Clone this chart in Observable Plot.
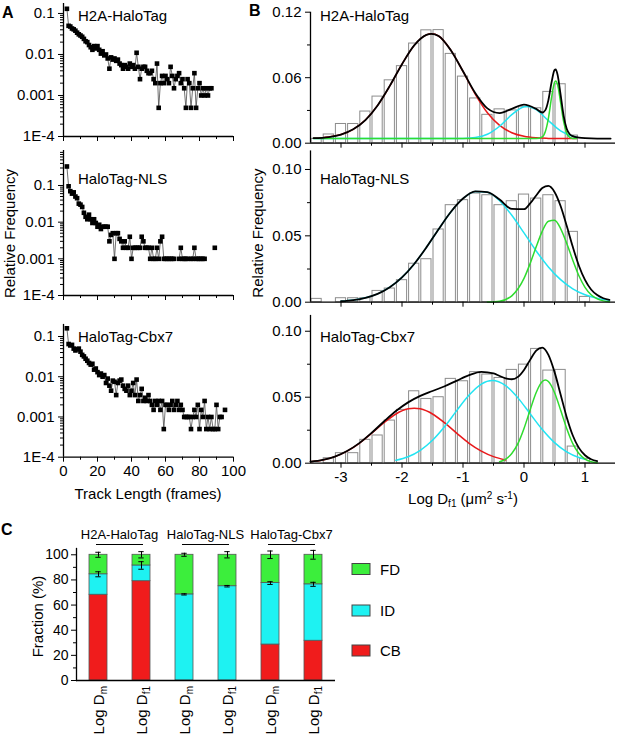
<!DOCTYPE html>
<html><head><meta charset="utf-8">
<script src="https://cdn.jsdelivr.net/npm/d3@7"></script>
<script src="https://cdn.jsdelivr.net/npm/@observablehq/plot@0.6"></script>
<style>
html,body{margin:0;padding:0;background:#fff;}
#fig{position:relative;width:617px;height:737px;overflow:hidden;background:#fff;}
#fig svg{position:absolute;overflow:visible;}
</style></head><body><div id="fig"></div>
<script>
// ---------------- Panel A data (relative frequency per track length, frames from 2) ----------------
const trackStartFrame = 2;
const trackH2A = [0.13,0.05,0.048,0.043,0.041,0.038,0.034,0.031,0.029,0.027,0.024,0.021,0.02,0.017,0.015,0.013,0.016,0.014,0.016,0.013,0.0105,0.012,0.0095,0.01,0.008,0.0045,0.0085,0.0075,0.008,0.007,0.0075,0.006,0.0055,0.0045,0.0055,0.005,0.0045,0.006,0.005,0.0055,0.0045,0.011,0.005,0.0025,0.0045,0.005,0.005,0.004,0.0035,0.0035,0.004,0.0025,0.002,0.006,0.0005,0.002,0.003,0.002,0.003,0.0025,0.002,0.005,0.003,0.0015,0.0025,0.003,0.0035,0.002,0.0025,0.0015,0.0005,0.0025,0.002,0.0005,0.0015,0.0035,0.0005,0.0015,0.002,0.001,0.0015,0.001,0.0015,0.001,0.0015,0.0015];
const trackNLS = [0.33,0.095,0.07,0.06,0.065,0.05,0.045,0.032,0.03,0.026,0.018,0.014,0.012,0.016,0.012,0.0095,0.012,0.0095,0.0075,0.0085,0.0065,0.0075,0.0075,0.0075,0.0075,0.003,0.0045,0.005,0.001,0.005,0.005,0.0035,0.003,0.002,0.003,0.002,0.002,0.004,0.001,0.002,0.002,0.002,0.002,0.002,0.004,0.003,0.002,0.002,0.002,0.001,0.002,0.001,0.001,0.002,0.001,0.003,0.004,0.001,0.001,0.001,0.001,0.001,0.001,0.001,null,null,0.001,0.002,0.001,0.001,0.001,0.001,null,0.001,0.001,0.002,0.001,0.001,0.001,0.001,0.001,0.001,null,null,null,null,null,0.002];
const trackCbx7 = [0.16,0.065,0.06,0.062,0.05,0.045,0.048,0.05,0.042,0.035,0.032,0.028,0.025,0.022,0.02,0.021,0.015,0.016,0.013,0.011,0.012,0.01,0.011,0.007,0.009,0.006,0.0045,0.008,0.0075,0.0035,0.007,0.008,0.0085,0.006,0.005,0.0045,0.006,0.0035,0.0045,0.007,0.0035,0.0085,0.0025,0.0035,0.005,0.0025,0.003,0.0025,0.0035,0.0025,0.002,0.0015,0.0025,0.002,0.0025,0.0015,0.0025,0.0005,0.002,0.002,0.0015,0.002,0.0025,0.0015,0.002,0.0025,0.0015,0.002,0.0015,0.001,0.001,0.001,0.001,0.0005,0.001,0.0015,0.001,0.002,0.0005,0.0015,0.001,0.0025,0.0005,0.001,0.0005,0.001,0.0005,0.0005,0.002,0.0005,0.001,0.001,null,0.0015];
const aYTicks = [1e-4, 0.001, 0.01, 0.1];
const aYTickLabels = ["1E-4", "0.001", "0.01", "0.1"];
const aXTicks = [0, 20, 40, 60, 80, 100];
const aXMinor = [10, 30, 50, 70, 90];

// ---------------- Panel B data (histograms of Log Df1, bin width 0.2) ----------------
const binCenters = [-3.4,-3.2,-3.0,-2.8,-2.6,-2.4,-2.2,-2.0,-1.8,-1.6,-1.4,-1.2,-1.0,-0.8,-0.6,-0.4,-0.2,0.0,0.2,0.4,0.6,0.8,1.0];
const binWidth = 0.2;
const histH2A = [0.004,0.008,0.0176,0.0176,0.029,0.0427,0.0576,0.0706,0.0913,0.1034,0.1036,0.0818,0.061,0.041,0.026,0.031,0.030,0.033,0.032,0.047,0.054,0.007,0];
const histNLS = [0.0025,0,0.003,0.003,0.003,0.0085,0.0103,0.0166,0.029,0.0324,0.0548,0.0731,0.0769,0.0819,0.0806,0.0731,0.0761,0.0811,0.0781,0.0806,0.0761,0.053,0.004];
const histCbx7 = [0,0.0038,0.0076,0.0076,0.0177,0.021,0.0323,0.0404,0.0545,0.0487,0.05,0.0639,0.0621,0.069,0.0672,0.0646,0.0707,0.0747,0.0866,0.0702,0.0707,0.0126,0.0033];

// fitted curves (x = Log Df1, y = relative frequency)
const h2aFitX = [-3.45,-3.2,-3.0,-2.8,-2.6,-2.4,-2.2,-2.0,-1.8,-1.6,-1.52,-1.4,-1.2,-1.0,-0.8,-0.6,-0.4,-0.2,0.0,0.2,0.3,0.35,0.4,0.45,0.5,0.52,0.55,0.6,0.65,0.7,0.75,0.8,0.9,1.0,1.2,1.42];
const h2aFitY = [0.0046,0.0056,0.0079,0.0127,0.0212,0.0346,0.0525,0.0724,0.0896,0.0992,0.1002,0.0982,0.0852,0.0659,0.046,0.0319,0.0276,0.0315,0.0354,0.0314,0.0281,0.0303,0.0395,0.0552,0.0669,0.0676,0.0628,0.0445,0.0251,0.0133,0.0082,0.0065,0.0052,0.0046,0.0042,0.0042];
const h2aCBX = [-3.45,-3.2,-3.0,-2.8,-2.6,-2.4,-2.2,-2.0,-1.8,-1.6,-1.52,-1.4,-1.2,-1.0,-0.8,-0.6,-0.4,-0.2,0.0,0.2,0.4,0.6,0.86];
const h2aCBY = [0.0046,0.0056,0.0079,0.0127,0.0212,0.0346,0.0525,0.0724,0.0896,0.0992,0.1002,0.0982,0.0852,0.0657,0.045,0.0279,0.0163,0.0096,0.0063,0.0049,0.0044,0.0042,0.0042];
const h2aIDX = [-3.45,-1.2,-1.0,-0.8,-0.6,-0.4,-0.2,0.0,0.05,0.2,0.4,0.6,0.8,0.86];
const h2aIDY = [0.0042,0.0042,0.0044,0.0052,0.0082,0.0155,0.0261,0.0333,0.0337,0.0307,0.0207,0.0113,0.0063,0.0055];
const h2aFDX = [-3.45,0.2,0.3,0.35,0.4,0.45,0.5,0.52,0.55,0.6,0.65,0.7,0.75,0.8,0.86];
const h2aFDY = [0.0042,0.0042,0.0058,0.0107,0.0228,0.0412,0.0555,0.057,0.0537,0.0374,0.0197,0.0092,0.0053,0.0044,0.0042];

const nlsFitX = [-3.0,-2.8,-2.6,-2.4,-2.2,-2.0,-1.8,-1.6,-1.4,-1.2,-1.0,-0.8,-0.6,-0.4,-0.2,0.0,0.1,0.2,0.3,0.4,0.5,0.6,0.7,0.8,0.9,1.0,1.1,1.2,1.3,1.4];
const nlsFitY = [0.0007,0.0016,0.0033,0.0063,0.0113,0.0187,0.0288,0.0413,0.055,0.068,0.0781,0.0835,0.083,0.0773,0.0703,0.0701,0.0744,0.0804,0.086,0.0876,0.0831,0.0725,0.0576,0.0417,0.0275,0.0168,0.0096,0.0054,0.003,0.0017];
const nlsIDX = [-3.0,-2.8,-2.6,-2.4,-2.2,-2.0,-1.8,-1.6,-1.4,-1.2,-1.0,-0.8,-0.6,-0.4,-0.2,0.0,0.2,0.4,0.6,0.8,1.0,1.2,1.4];
const nlsIDY = [0.0007,0.0016,0.0033,0.0063,0.0113,0.0187,0.0288,0.0413,0.055,0.068,0.0781,0.0835,0.0829,0.0765,0.0655,0.0522,0.0386,0.0266,0.017,0.0101,0.0056,0.0029,0.0014];
const nlsFDX = [-0.6,-0.4,-0.2,0.0,0.1,0.2,0.3,0.4,0.5,0.6,0.7,0.8,0.9,1.0,1.1,1.2,1.3,1.4];
const nlsFDY = [0.0001,0.0008,0.0048,0.0179,0.0291,0.0418,0.0536,0.061,0.0617,0.0555,0.0444,0.0316,0.0199,0.0112,0.0056,0.0025,0.001,0.0003];

const cbxFitX = [-3.5,-3.3,-3.1,-2.9,-2.7,-2.5,-2.3,-2.1,-1.9,-1.7,-1.5,-1.3,-1.1,-0.9,-0.7,-0.5,-0.4,-0.3,-0.2,-0.1,0.0,0.1,0.2,0.3,0.4,0.5,0.6,0.7,0.8,0.9,1.0,1.1,1.2];
const cbxFitY = [0.0011,0.0025,0.005,0.0092,0.0152,0.0229,0.0314,0.0395,0.0461,0.051,0.0547,0.0583,0.0626,0.0667,0.0692,0.068,0.0661,0.0643,0.0636,0.0654,0.0707,0.0783,0.0853,0.0876,0.0821,0.0692,0.0521,0.0349,0.021,0.0116,0.006,0.003,0.0016];
const cbxCBX = [-3.5,-3.3,-3.1,-2.9,-2.7,-2.5,-2.3,-2.1,-1.9,-1.8,-1.7,-1.5,-1.3,-1.1,-0.9,-0.7,-0.5,-0.3];
const cbxCBY = [0.0011,0.0025,0.005,0.0092,0.0151,0.0226,0.0305,0.0373,0.0412,0.0417,0.0412,0.0373,0.0305,0.0226,0.0151,0.0092,0.005,0.0025];
const cbxIDX = [-2.1,-1.9,-1.7,-1.5,-1.3,-1.1,-0.9,-0.7,-0.52,-0.3,-0.1,0.1,0.3,0.5,0.7,0.9,1.0];
const cbxIDY = [0.0022,0.0049,0.0098,0.0174,0.0278,0.04,0.0516,0.06,0.0626,0.0587,0.0495,0.0375,0.0255,0.0156,0.0086,0.0043,0.0029];
const cbxFDX = [-0.4,-0.3,-0.2,-0.1,0.0,0.1,0.2,0.3,0.35,0.4,0.5,0.6,0.7,0.8,0.9,1.0,1.1,1.2];
const cbxFDY = [0.0011,0.0031,0.0073,0.0148,0.0263,0.0403,0.0536,0.0619,0.063,0.0619,0.0536,0.0403,0.0263,0.0148,0.0073,0.0031,0.0011,0.0004];

const bXTicks = [-3, -2, -1, 0, 1];
const bXMinor = [-2.5, -1.5, -0.5, 0.5];

// ---------------- Panel C data (fractions, %) ----------------
const cCats = ["H2A Dm", "H2A Df1", "NLS Dm", "NLS Df1", "Cbx7 Dm", "Cbx7 Df1"];
const cSub = ["m", "f1", "m", "f1", "m", "f1"];
const cGroups = ["H2A-HaloTag", "HaloTag-NLS", "HaloTag-Cbx7"];
const fracCB = [68.2, 79.0, 0, 0, 28.6, 31.6];
const fracID = [16.3, 12.5, 68.5, 75.0, 48.9, 44.9];
const fracFD = [15.5, 8.5, 31.5, 25.0, 22.5, 23.5];
const errID = [2.0, 3.0, 0.5, 0.6, 1.1, 1.6];
const errFD = [2.0, 2.5, 1.2, 2.5, 3.0, 3.5];
const compNames = ["CB", "ID", "FD"];
const compColors = ["#f01c1c", "#1ef2f2", "#3cee3c"];
const cYTicks = [0, 20, 40, 60, 80, 100];
const cYMinor = [10, 30, 50, 70, 90];

// ---------------- drawing ----------------
const FONT = '"Liberation Sans", Arial, sans-serif';
const baseStyle = {fontFamily: FONT, fontSize: "15px", background: "transparent", overflow: "visible", color: "black"};
const fig = document.getElementById("fig");
function place(el, left, top) { el.style.position = "absolute"; el.style.left = left + "px"; el.style.top = top + "px"; fig.appendChild(el); return el; }

function minorLog(lo, hi) {
  const t = [];
  for (let e = -4; e <= 0; e++) for (let m = 2; m <= 9; m++) { const v = +(m * Math.pow(10, e)).toPrecision(6); if (v > lo && v < hi) t.push(v); }
  return t;
}
const fmtA = d => { const i = aYTicks.indexOf(d); return i >= 0 ? aYTickLabels[i] : ""; };

function trackPanel(vals, o) {
  const data = vals.map((v, i) => ({frame: trackStartFrame + i, freq: v}));
  return Plot.plot({
    width: 240, height: o.height,
    marginLeft: 63, marginRight: 7, marginTop: o.mt, marginBottom: o.mb,
    style: baseStyle,
    x: {domain: [0, 100]},
    y: {type: "log", domain: [1e-4, o.ymax]},
    marks: [
      Plot.line(data, {x: "frame", y: "freq", stroke: "#4d4d4d", strokeWidth: 0.8}),
      Plot.dot(data, {x: "frame", y: "freq", symbol: "square", r: 2.6, fill: "black"}),
      Plot.ruleX([0], {strokeWidth: 1.3}),
      Plot.ruleY([1e-4], {strokeWidth: 1.3}),
      Plot.axisY({ticks: aYTicks, tickFormat: fmtA, tickSize: 5, tickPadding: 4, label: null}),
      Plot.axisY({ticks: minorLog(1e-4, o.ymax), tickSize: 3, tickFormat: () => "", label: null}),
      Plot.axisX({ticks: aXTicks, tickSize: 5, tickPadding: 3, tickFormat: o.showX ? (d => String(d)) : (() => ""), label: null}),
      Plot.axisX({ticks: aXMinor, tickSize: 3, tickFormat: () => "", label: null})
    ]
  });
}

function histPanel(heights, curves, o) {
  const bars = binCenters.map((c, i) => ({lo: c - binWidth / 2, hi: c + binWidth / 2, h: heights[i]})).filter(d => d.h > 0);
  const curveMarks = curves.map(cv => Plot.line(cv.x.map((x, i) => ({x, y: cv.y[i]})), {x: "x", y: "y", stroke: cv.color, strokeWidth: cv.w, curve: "monotone-x"}));
  return Plot.plot({
    width: 377, height: o.height,
    marginLeft: 70, marginRight: 2, marginTop: o.mt, marginBottom: o.mb,
    style: baseStyle,
    x: {domain: [-3.5, 1.5]},
    y: {domain: [0, o.ymax]},
    marks: [
      Plot.rect(bars, {x1: "lo", x2: "hi", y1: 0, y2: "h", insetLeft: 1, insetRight: 1, fill: "white", stroke: "#8c8c8c", strokeWidth: 1}),
      ...curveMarks,
      Plot.ruleX([-3.5], {strokeWidth: 1.3}),
      Plot.ruleY([0], {strokeWidth: 1.3}),
      Plot.axisY({ticks: o.yMajor, tickFormat: d3.format(".2f"), tickSize: 5, tickPadding: 4, label: null}),
      Plot.axisY({ticks: o.yMinor, tickSize: 3, tickFormat: () => "", label: null}),
      Plot.axisX({ticks: bXTicks, tickSize: 5, tickPadding: 3, tickFormat: o.showX ? (d => String(d)) : (() => ""), label: null}),
      Plot.axisX({ticks: bXMinor, tickSize: 3, tickFormat: () => "", label: null})
    ]
  });
}

const RED = "#e8191b", CYAN = "#22e4f2", GREEN = "#2fdc2f";

place(trackPanel(trackH2A, {height: 145, mt: 3, mb: 9, ymax: 0.175, showX: false}), 0, 0);
place(trackPanel(trackNLS, {height: 168, mt: 5, mb: 18, ymax: 0.9, showX: false}), 0, 145);
place(trackPanel(trackCbx7, {height: 197, mt: 10.9, mb: 53.3, ymax: 0.2, showX: true}), 0, 313);

place(histPanel(histH2A, [
  {x: h2aCBX, y: h2aCBY, color: RED, w: 1.5},
  {x: h2aIDX, y: h2aIDY, color: CYAN, w: 1.5},
  {x: h2aFDX, y: h2aFDY, color: GREEN, w: 1.5},
  {x: h2aFitX, y: h2aFitY, color: "black", w: 1.8}
], {height: 150, mt: 11.7, mb: 7.3, ymax: 0.12, yMajor: [0, 0.06, 0.12], yMinor: [0.03, 0.09], showX: false}), 240, 0);

place(histPanel(histNLS, [
  {x: nlsIDX, y: nlsIDY, color: CYAN, w: 1.5},
  {x: nlsFDX, y: nlsFDY, color: GREEN, w: 1.5},
  {x: nlsFitX, y: nlsFitY, color: "black", w: 1.8}
], {height: 162, mt: 2.4, mb: 8.3, ymax: 0.114, yMajor: [0, 0.05, 0.10], yMinor: [0.025, 0.075], showX: false}), 240, 148);

place(histPanel(histCbx7, [
  {x: cbxCBX, y: cbxCBY, color: RED, w: 1.5},
  {x: cbxIDX, y: cbxIDY, color: CYAN, w: 1.5},
  {x: cbxFDX, y: cbxFDY, color: GREEN, w: 1.5},
  {x: cbxFitX, y: cbxFitY, color: "black", w: 1.8}
], {height: 200, mt: 4.9, mb: 47.3, ymax: 0.112, yMajor: [0, 0.05, 0.10], yMinor: [0.025, 0.075], showX: true}), 240, 310);

// Panel C
const rows = [];
cCats.forEach((cat, i) => {
  rows.push({cat, comp: "CB", value: fracCB[i]}, {cat, comp: "ID", value: fracID[i]}, {cat, comp: "FD", value: fracFD[i]});
});
const barRows = rows.filter(d => d.value > 0);
const errRows = cCats.flatMap((cat, i) => [
  {cat, y: fracCB[i] + fracID[i], e: errID[i]},
  {cat, y: fracCB[i] + fracID[i] + fracFD[i], e: errFD[i]}
]);
const plotC = Plot.plot({
  width: 617, height: 217,
  marginLeft: 76, marginRight: 282, marginTop: 28, marginBottom: 57,
  style: {...baseStyle, fontSize: "14px"},
  x: {type: "band", domain: cCats, paddingInner: 0.59, paddingOuter: 0.285, axis: null},
  y: {domain: [0, 105]},
  color: {domain: compNames, range: compColors},
  marks: [
    Plot.barY(barRows, {x: "cat", y: "value", fill: "comp", stroke: "#555", strokeWidth: 0.8}),
    Plot.ruleX(errRows, {x: "cat", y1: d => d.y - d.e, y2: d => d.y + d.e, strokeWidth: 1}),
    Plot.tickY(errRows, {x: "cat", y: d => d.y + d.e, insetLeft: 6.3, insetRight: 6.3, strokeWidth: 1}),
    Plot.tickY(errRows, {x: "cat", y: d => d.y - d.e, insetLeft: 6.3, insetRight: 6.3, strokeWidth: 1}),
    Plot.ruleY([0], {strokeWidth: 1.3}),
    Plot.frame({anchor: "left", strokeWidth: 1.3}),
    Plot.axisY({ticks: cYTicks, tickSize: 5, tickPadding: 3, label: null}),
    Plot.axisY({ticks: cYMinor, tickSize: 3, tickFormat: () => "", label: null})
  ]
});
const cTop = 520;
place(plotC, 0, cTop);

// ---------------- overlay labels ----------------
const ov = d3.select(fig).append("svg")
  .attr("width", 617).attr("height", 737)
  .style("left", "0px").style("top", "0px").style("pointer-events", "none")
  .attr("font-family", FONT).attr("font-size", 15).attr("fill", "black");

function txt(x, y, s, o = {}) {
  const t = ov.append("text").attr("x", x).attr("y", y).text(s);
  if (o.bold) t.attr("font-weight", "bold");
  if (o.size) t.attr("font-size", o.size);
  if (o.anchor) t.attr("text-anchor", o.anchor);
  if (o.rotate) t.attr("transform", `rotate(${o.rotate},${x},${y})`);
  return t;
}
txt(2, 18, "A", {bold: true, size: 16});
txt(249, 16, "B", {bold: true, size: 16});
txt(1, 535, "C", {bold: true, size: 16});

txt(78, 21, "H2A-HaloTag");
txt(78, 184, "HaloTag-NLS");
txt(78, 342, "HaloTag-Cbx7");
txt(320, 21, "H2A-HaloTag");
txt(320, 184, "HaloTag-NLS");
txt(320, 342, "HaloTag-Cbx7");

txt(14.5, 233.5, "Relative Frequency", {anchor: "middle", rotate: -90});
txt(262.5, 233, "Relative Frequency", {anchor: "middle", rotate: -90});
txt(148, 499, "Track Length (frames)", {anchor: "middle"});

const bl = ov.append("text").attr("x", 463).attr("y", 504).attr("text-anchor", "middle");
bl.append("tspan").text("Log D");
bl.append("tspan").attr("font-size", 10).attr("dy", 3).text("f1");
bl.append("tspan").attr("dy", -3).text(" (μm");
bl.append("tspan").attr("font-size", 10).attr("dy", -5).text("2");
bl.append("tspan").attr("dy", 5).text(" s");
bl.append("tspan").attr("font-size", 10).attr("dy", -5).text("-1");
bl.append("tspan").attr("dy", 5).text(")");

txt(42.5, 616.5, "Fraction (%)", {anchor: "middle", rotate: -90});

// Panel C category labels & group labels from Plot's x scale
const xs = plotC.scale("x");
const centers = cCats.map(c => xs.apply(c) + xs.bandwidth / 2);
cCats.forEach((cat, i) => {
  const t = ov.append("text").attr("transform", `translate(${centers[i] + 5.5},686) rotate(-90)`).attr("text-anchor", "end");
  t.append("tspan").text("Log D");
  t.append("tspan").attr("font-size", 10).attr("dy", 3).text(cSub[i]);
});
cGroups.forEach((g, k) => {
  const a = centers[2 * k], b = centers[2 * k + 1];
  txt((a + b) / 2, 539, g, {anchor: "middle", size: 13});
  ov.append("line").attr("x1", a - 2).attr("x2", b + 2).attr("y1", 544.5).attr("y2", 544.5).attr("stroke", "black").attr("stroke-width", 1);
});

// legend
const legY = {FD: 563.5, ID: 605, CB: 645};
compNames.forEach((c, i) => {
  ov.append("rect").attr("x", 352).attr("y", legY[c]).attr("width", 18).attr("height", 11)
    .attr("fill", compColors[i]).attr("stroke", "#444").attr("stroke-width", 1);
  txt(380, legY[c] + 11, c);
});
</script></body></html>
